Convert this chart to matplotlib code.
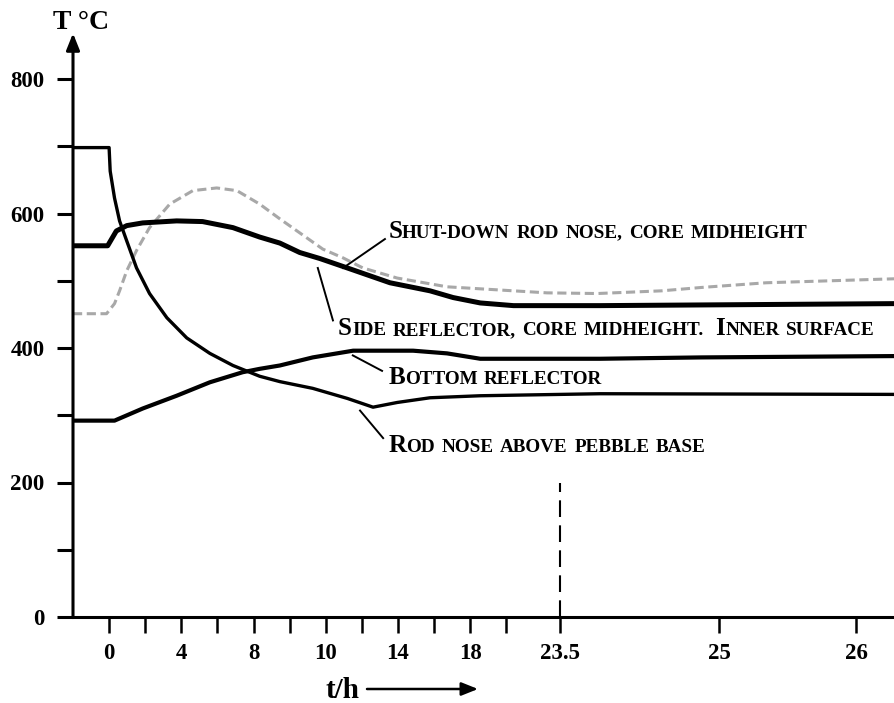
import matplotlib
matplotlib.use('Agg')
import matplotlib.pyplot as plt

# x values are positions on the (non-uniform) time axis, one unit per minor tick
tick_pos = [0, 1, 2, 3, 4, 5, 6, 7, 8, 9, 10, 11, 12.5, 16.9, 20.7]
tick_lab = ['0', '', '4', '', '8', '', '10', '', '14', '', '18', '', '23.5', '25', '26']

ytick_val = [0, 100, 200, 300, 400, 500, 600, 700, 800]
ytick_lab = ['0', '', '200', '', '400', '', '600', '', '800']

rod_t = [-1, 0.0, 0.03, 0.15, 0.29, 0.49, 0.76, 1.12, 1.6, 2.15, 2.79, 3.43, 4.17,
         4.73, 5.64, 6.6, 7.31, 7.98, 8.89, 10.28, 13.6, 21.8]
rod_T = [698, 698, 663, 623, 589, 559, 519, 481, 445, 415, 392, 374, 358,
         350, 340, 325, 312, 319, 326, 329, 332, 331]

side_t = [-1, -0.04, 0.2, 0.49, 0.93, 1.87, 2.59, 3.43, 4.17, 4.73, 5.28, 5.84,
          6.6, 7.78, 8.89, 9.53, 10.28, 11.2, 13.6, 21.8]
side_T = [552, 552, 574, 582, 586, 589, 588, 579, 565, 556, 542, 533,
          519, 497, 485, 475, 467, 463, 463, 466]

bottom_t = [-1, 0.15, 0.93, 1.87, 2.79, 3.7, 4.17, 4.73, 5.64, 6.76, 8.42, 9.36,
            10.28, 13.6, 16.4, 21.8]
bottom_T = [292, 292, 310, 329, 349, 364, 369, 374, 386, 396, 396, 392,
            384, 384, 386, 388]

shut_t = [-1, -0.07, 0.15, 0.29, 0.49, 0.76, 1.12, 1.68, 2.32, 2.98, 3.54, 4.17,
          4.73, 5.92, 6.48, 7.03, 7.98, 9.36, 10.28, 12.13, 13.52, 15.3, 16.4,
          18.2, 21.8]
shut_T = [451, 451, 466, 485, 515, 545, 579, 614, 634, 638, 634, 614,
          592, 547, 534, 519, 504, 491, 488, 482, 481, 485, 490,
          497, 503]

# curve labels: text, baseline anchor, pointer (from curve, to label)
labels = [
    ('Shut-down rod nose, core midheight', (7.73, 564), (6.48, 519), (7.64, 562)),
    ('Side reflector, core midheight.  Inner surface', (6.34, 419), (5.78, 519), (6.2, 441)),
    ('Bottom reflector', (7.73, 346), (6.75, 389), (7.56, 366)),
    ('Rod nose above pebble base', (7.73, 246), (6.95, 307), (7.59, 266)),
]

SERIF = 'Liberation Serif'

fig = plt.figure(figsize=(8.94, 7.03), dpi=100)
ax = fig.add_axes([73 / 894, 86 / 703, 1 - 73 / 894, 868 * 0.6725 / 703])
ax.set_xlim(-1, 21.74)
ax.set_ylim(0, 868)

for s in ['top', 'right', 'left']:
    ax.spines[s].set_visible(False)
ax.spines['bottom'].set_linewidth(2.2)

ax.set_xticks(tick_pos)
ax.set_xticklabels(tick_lab)
ax.set_yticks(ytick_val)
ax.set_yticklabels(ytick_lab)
ax.tick_params(axis='x', direction='out', length=11.5, width=1.8, pad=7)
ax.tick_params(axis='y', direction='out', length=11.5, width=2.2, pad=9)
for lab in ax.get_xticklabels() + ax.get_yticklabels():
    lab.set_fontfamily(SERIF)
    lab.set_fontweight('bold')
    lab.set_fontsize(16.5)

# y axis with arrow head
ax.annotate('', xy=(-1, 868), xytext=(-1, 0), annotation_clip=False,
            arrowprops=dict(arrowstyle='-|>,head_length=0.5,head_width=0.2',
                            lw=2.2, color='black', mutation_scale=20,
                            shrinkA=0, shrinkB=0))

ax.plot(shut_t, shut_T, color='#a8a8a8', lw=2.2, linestyle=(0, (3, 1.5)))
ax.plot(rod_t, rod_T, color='black', lw=2.4, solid_joinstyle='round')
ax.plot(bottom_t, bottom_T, color='black', lw=3.0, solid_joinstyle='round')
ax.plot(side_t, side_T, color='black', lw=3.6, solid_joinstyle='round')

# dashed marker at 23.5 h
ax.plot([12.5, 12.5], [0, 200], color='black', lw=1.5, linestyle=(0, (8, 4)))


def small_caps(x, y, s, big=18, small=13.8):
    """Fake small caps: capitals drawn large, lower case drawn as small capitals."""
    renderer = fig.canvas.get_renderer()
    dx = 0.0
    for word in s.split(' '):
        if word == '':
            dx += small * 0.35
            continue
        runs = []
        for ch in word:
            cap = ch.isupper()
            if runs and runs[-1][1] == cap:
                runs[-1][0] += ch
            else:
                runs.append([ch, cap])
        for run, cap in runs:
            t = ax.annotate(run.upper(), xy=(x, y), xytext=(dx, 0),
                            textcoords='offset pixels', ha='left', va='baseline',
                            fontsize=big if cap else small, fontweight='bold',
                            fontfamily=SERIF, annotation_clip=False)
            dx += t.get_window_extent(renderer).width
        dx += small * 0.34 * 100 / 72


for text, (lx, ly), p0, p1 in labels:
    ax.plot([p0[0], p1[0]], [p0[1], p1[1]], color='black', lw=1.4)
    small_caps(lx, ly, text)

fig.text(53 / 894, 1 - 29 / 703, 'T \u00b0C', fontsize=20, fontweight='bold',
         fontfamily=SERIF, va='baseline', ha='left')
fig.text(325 / 894, 1 - 698 / 703, 't/h', fontsize=21, fontweight='bold',
         fontfamily=SERIF, va='baseline', ha='left')
ax.annotate('', xy=(478, 703 - 689), xytext=(367, 703 - 689),
            xycoords='figure pixels', textcoords='figure pixels',
            arrowprops=dict(arrowstyle='-|>,head_length=0.5,head_width=0.2',
                            lw=1.8, color='black', mutation_scale=20,
                            shrinkA=0, shrinkB=0))

fig.savefig('out.png', dpi=100)
